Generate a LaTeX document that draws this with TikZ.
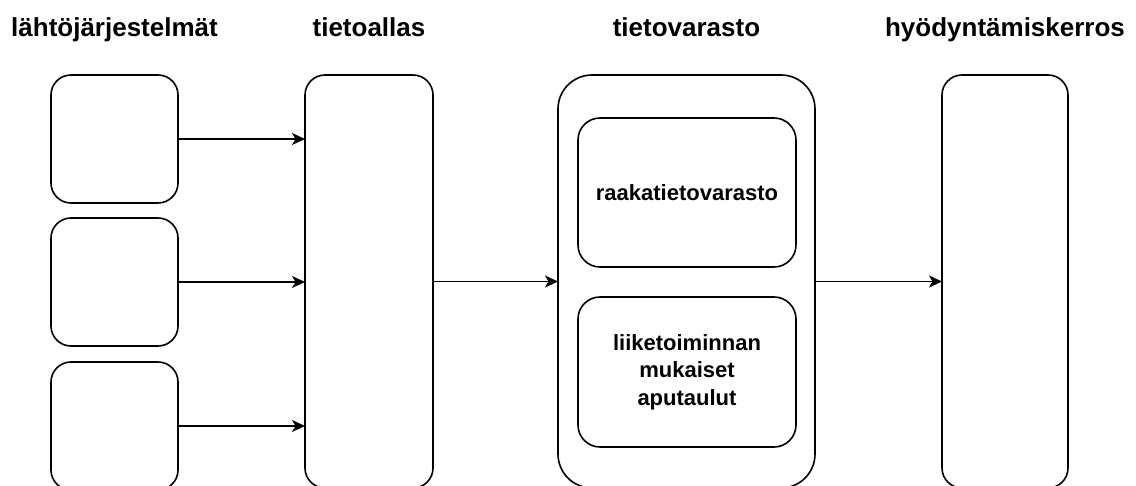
\documentclass[tikz,border=0pt]{standalone}
\usepackage{fontspec}
\setmainfont{Liberation Sans}
\usetikzlibrary{arrows.meta}
\begin{document}
\begin{tikzpicture}[x=1pt,y=-1pt,
  box/.style={draw=black,line width=1.6pt,rounded corners=20pt,fill=white,inner sep=0pt,outer sep=0pt},
  title/.style={font=\bfseries\fontsize{26}{31}\selectfont,anchor=base},
  inner/.style={font=\bfseries\fontsize{22}{27.5}\selectfont,align=center},
  conn/.style={line width=1.4pt,-{Stealth[length=13pt,width=12pt,inset=3.5pt]}}]
\useasboundingbox (0,0) rectangle (1136,486);
\clip (0,0) rectangle (1136,486);
% titles
\node[title] (t1) at (114.5,37) {lähtöjärjestelmät};
\node[title] (t2) at (369,37) {tietoallas};
\node[title] (t3) at (686.5,37) {tietovarasto};
\node[title] (t4) at (1005,37) {hyödyntämiskerros};
% source boxes
\node[box,minimum width=127pt,minimum height=128pt] (s1) at (114.5,139) {};
\node[box,minimum width=127pt,minimum height=128pt] (s2) at (114.5,282) {};
\node[box,minimum width=127pt,minimum height=128pt] (s3) at (114.5,426) {};
% tietoallas
\node[box,minimum width=128pt,minimum height=413pt] (tl) at (369,281.5) {};
% tietovarasto
\node[box,rounded corners=34pt,minimum width=257pt,minimum height=413pt] (tv) at (686.5,281.5) {};
\node[box,rounded corners=22pt,minimum width=218pt,minimum height=149pt,
      font=\bfseries\fontsize{22}{27.5}\selectfont] (raaka) at (687,192.5) {raakatietovarasto};
\node[box,rounded corners=22pt,minimum width=218pt,minimum height=150pt,align=center,
      font=\bfseries\fontsize{22}{27.5}\selectfont] (liike) at (687,372) {liiketoiminnan\\mukaiset\\aputaulut};
% hyodyntamiskerros
\node[box,minimum width=126pt,minimum height=413pt] (hk) at (1005,281.5) {};
% connectors
\draw[conn] (s1.east) -- (s1.east -| tl.west);
\draw[conn] (s2.east) -- (s2.east -| tl.west);
\draw[conn] (s3.east) -- (s3.east -| tl.west);
\draw[conn] (tl.east) -- (tv.west);
\draw[conn] (tv.east) -- (hk.west);
\end{tikzpicture}
\end{document}
